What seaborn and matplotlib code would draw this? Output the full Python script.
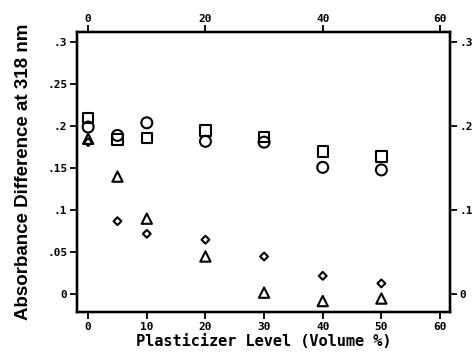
import numpy as np
import pandas as pd
import matplotlib
matplotlib.use("Agg")
import matplotlib.pyplot as plt
import seaborn as sns

levels = [0, 5, 10, 20, 30, 40, 50]
squares = [0.210, 0.184, 0.186, 0.195, 0.187, 0.170, 0.164]
circles = [0.199, 0.189, 0.204, 0.182, 0.181, 0.151, 0.148]
triangles = [0.185, 0.140, 0.090, 0.045, 0.002, -0.008, -0.005]
diamonds = [0.181, 0.087, 0.072, 0.065, 0.045, 0.022, 0.013]

x_ticks = [0, 10, 20, 30, 40, 50, 60]
top_ticks = [0, 20, 40, 60]
y_ticks = [0, 0.05, 0.1, 0.15, 0.2, 0.25, 0.3]
y_ticklabels = ["0", ".05", ".1", ".15", ".2", ".25", ".3"]
right_ticks = [0, 0.1, 0.2, 0.3]
right_ticklabels = ["0", ".1", ".2", ".3"]

df = pd.DataFrame({
    "level": levels * 4,
    "value": squares + circles + triangles + diamonds,
    "series": ["sq"] * 7 + ["ci"] * 7 + ["tr"] * 7 + ["di"] * 7,
})

sns.set_theme(style="white")
plt.rcParams["font.family"] = ["DejaVu Sans Mono", "DejaVu Sans"]
plt.rcParams["font.weight"] = "bold"
plt.rcParams["text.color"] = "black"
plt.rcParams["axes.labelcolor"] = "black"
plt.rcParams["xtick.color"] = "black"
plt.rcParams["ytick.color"] = "black"

fig = plt.figure(figsize=(4.75, 3.55), dpi=100)
ax = fig.add_axes([77 / 475, 1 - 312 / 355, (450 - 77) / 475, (312 - 32) / 355])

sizes = {"sq": 55, "ci": 62, "tr": 55, "di": 16}
mk = {"sq": "s", "ci": "o", "tr": "^", "di": "D"}
for key in ["sq", "ci", "tr", "di"]:
    sub = df[df["series"] == key]
    sns.scatterplot(x=sub["level"], y=sub["value"], marker=mk[key], s=sizes[key],
                    facecolors="none", edgecolor="black", linewidth=1.5,
                    ax=ax, legend=False)

ax.set_xlim(-1.9, 61.7)
ax.set_ylim(-0.021, 0.312)
ax.set_xticks(x_ticks)
ax.set_xticklabels([str(t) for t in x_ticks], fontsize=8, fontweight="bold")
ax.set_yticks(y_ticks)
ax.set_yticklabels(y_ticklabels, fontsize=8, fontweight="bold")
ax.tick_params(axis="both", direction="out", length=5, width=1.3, color="black",
               labelcolor="black", bottom=True, left=True, pad=2)
for sp in ax.spines.values():
    sp.set_color("black")
    sp.set_linewidth(1.6)

ax.set_xlabel("Plasticizer Level (Volume %)", fontsize=11, fontweight="bold",
              labelpad=2, color="black")
ax.set_ylabel("Absorbance Difference at 318 nm", fontsize=13.5, fontweight="bold",
              family=["Liberation Sans", "DejaVu Sans"], labelpad=11, color="black")

axt = ax.twiny()
axt.set_xlim(ax.get_xlim())
axt.set_xticks(top_ticks)
axt.set_xticklabels([str(t) for t in top_ticks], fontsize=8, fontweight="bold")
axt.tick_params(axis="x", direction="out", length=5, width=1.3, color="black",
                labelcolor="black", top=True, pad=1)

axr = ax.twinx()
axr.set_ylim(ax.get_ylim())
axr.set_yticks(right_ticks)
axr.set_yticklabels(right_ticklabels, fontsize=8, fontweight="bold")
axr.tick_params(axis="y", direction="out", length=5, width=1.3, color="black",
                labelcolor="black", right=True, pad=2)
for a in (axt, axr):
    for sp in a.spines.values():
        sp.set_color("black")
        sp.set_linewidth(1.6)
    a.grid(False)

fig.savefig("out.png", dpi=100)
